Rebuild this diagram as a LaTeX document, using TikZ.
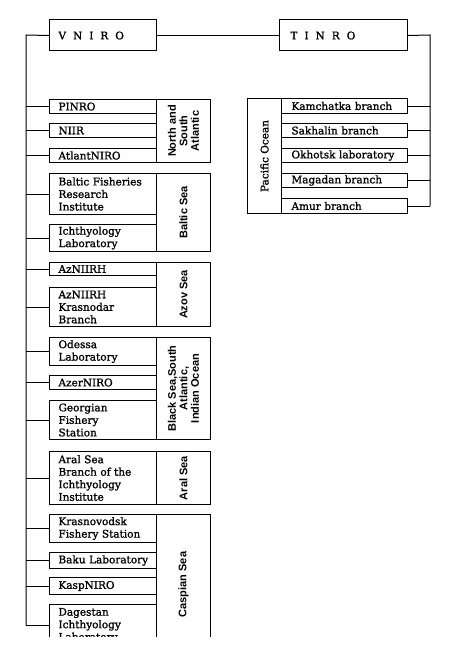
\documentclass[tikz,border=0pt]{standalone}
\usepackage{fontspec}
\setmainfont{DejaVu Serif}[FakeBold=1.2]
\newfontfamily\labsans{Liberation Sans}
\begin{document}
\begin{tikzpicture}[x=1pt,y=-1pt,line width=1pt,
  txt/.style={font=\fontsize{10.5}{12.5}\selectfont},
  sub/.style={draw, anchor=north west, text width=107pt, inner xsep=0pt, inner ysep=0pt,
    align=left, execute at begin node={\leftskip=9pt\relax}, txt},
  psub/.style={draw, anchor=north west, text width=126pt, inner xsep=0pt, inner ysep=0pt,
    align=left, execute at begin node={\leftskip=10pt\relax}, txt},
  head/.style={draw, anchor=north west, minimum height=31pt, inner xsep=0pt, inner ysep=0pt,
    align=left, txt},
  reg/.style={draw, anchor=north west, minimum width=54pt, inner sep=0pt},
  regtext/.style={rotate=90, align=center, inner sep=0pt,
    font=\labsans\bfseries\fontsize{11}{11.5}\selectfont}
]
\useasboundingbox (0,0) rectangle (450,661);
\fill[white] (0,0) rectangle (450,661);
\begin{scope}
\clip (0,0) rectangle (450,636);
% heads
\node[head, text width=107pt, execute at begin node={\leftskip=9pt\relax}] (vniro) at (49,19.5) {{\spaceskip=7pt V N I R O}};
\node[head, text width=128pt, execute at begin node={\leftskip=11pt\relax}] (tinro) at (279,19.5) {{\spaceskip=7pt T I N R O}};
\draw (vniro.east) -- (tinro.west);

% VNIRO subordinates
\node[sub, minimum height=14pt] (pinro) at (49,99) {PINRO};
\node[sub, minimum height=14pt] (niir) at (49,123) {NIIR};
\node[sub, minimum height=14pt] (atlant) at (49,148) {AtlantNIRO};
\node[sub, minimum height=41pt] (baltic) at (49,173) {Baltic Fisheries\\Research\\Institute};
\node[sub, minimum height=27pt] (ichlab) at (49,224) {Ichthyology\\Laboratory};
\node[sub, minimum height=13pt] (aznii) at (49,262) {AzNIIRH};
\node[sub, minimum height=39pt] (azkras) at (49,287) {AzNIIRH\\Krasnodar\\Branch};
\node[sub, minimum height=28pt] (odessa) at (49,337) {Odessa\\Laboratory};
\node[sub, minimum height=14pt] (azer) at (49,375) {AzerNIRO};
\node[sub, minimum height=39pt] (georg) at (49,400) {Georgian\\Fishery\\Station};
\node[sub, minimum height=53pt] (aral) at (49,451) {Aral Sea\\Branch of the\\Ichthyology\\Institute};
\node[sub, minimum height=28pt] (krasno) at (49,514) {Krasnovodsk\\Fishery Station};
\node[sub, minimum height=16pt] (baku) at (49,552) {Baku Laboratory};
\node[sub, minimum height=17pt] (kasp) at (49,577) {KaspNIRO};
\node[sub, minimum height=42pt] (dag) at (49,604) {Dagestan\\Ichthyology\\Laboratory};

% regions
\node[reg, minimum height=63pt] (nsa) at (156,99) {};
\node[regtext] (nsaL) at (nsa.center) {North and\\South\\Atlantic};
\node[reg, minimum height=78pt] (balt) at (156,173) {};
\node[regtext] (baltL) at (balt.center) {Baltic Sea};
\node[reg, minimum height=64pt] (azov) at (156,262) {};
\node[regtext] (azovL) at (azov.center) {Azov Sea};
\node[reg, minimum height=102pt] (black) at (156,337) {};
\node[regtext] (blackL) at (black.center) {Black Sea,South\\Atlantic,\\Indian Ocean};
\node[reg, minimum height=53pt] (aralr) at (156,451) {};
\node[regtext] (aralL) at (aralr.center) {Aral Sea};
\node[reg, minimum height=132pt] (casp) at (156,514) {};
\node[regtext] (caspL) at ([yshift=-4pt]casp.center) {Caspian Sea};

% VNIRO trunk
\coordinate (vtrunk) at (26,35);
\draw (vniro.west) -- (vtrunk) -- (vtrunk |- dag.west);
\foreach \n in {pinro,niir,atlant,baltic,ichlab,aznii,azkras,odessa,azer,georg,aral,krasno,baku,kasp,dag}
  \draw (\n.west) -- (\n.west -| vtrunk);

% TINRO subordinates
\node[psub, minimum height=15pt] (kam) at (281,98) {Kamchatka branch};
\node[psub, minimum height=14pt] (sakh) at (281,123) {Sakhalin branch};
\node[psub, minimum height=14pt] (okh) at (281,148) {Okhotsk laboratory};
\node[psub, minimum height=14pt] (mag) at (281,173) {Magadan branch};
\node[psub, minimum height=15pt] (amur) at (281,198) {Amur branch};
\node[draw, anchor=north west, minimum width=34pt, minimum height=115pt, inner sep=0pt] (pac) at (247,98) {};
\node[rotate=90, inner sep=0pt, txt] (pacL) at (pac.center) {Pacific Ocean};

\coordinate (ttrunk) at (430,35);
\draw (tinro.east) -- (ttrunk) -- (ttrunk |- amur.east);
\foreach \n in {kam,sakh,okh,mag,amur}
  \draw (\n.east) -- (\n.east -| ttrunk);
\end{scope}
\end{tikzpicture}
\end{document}
